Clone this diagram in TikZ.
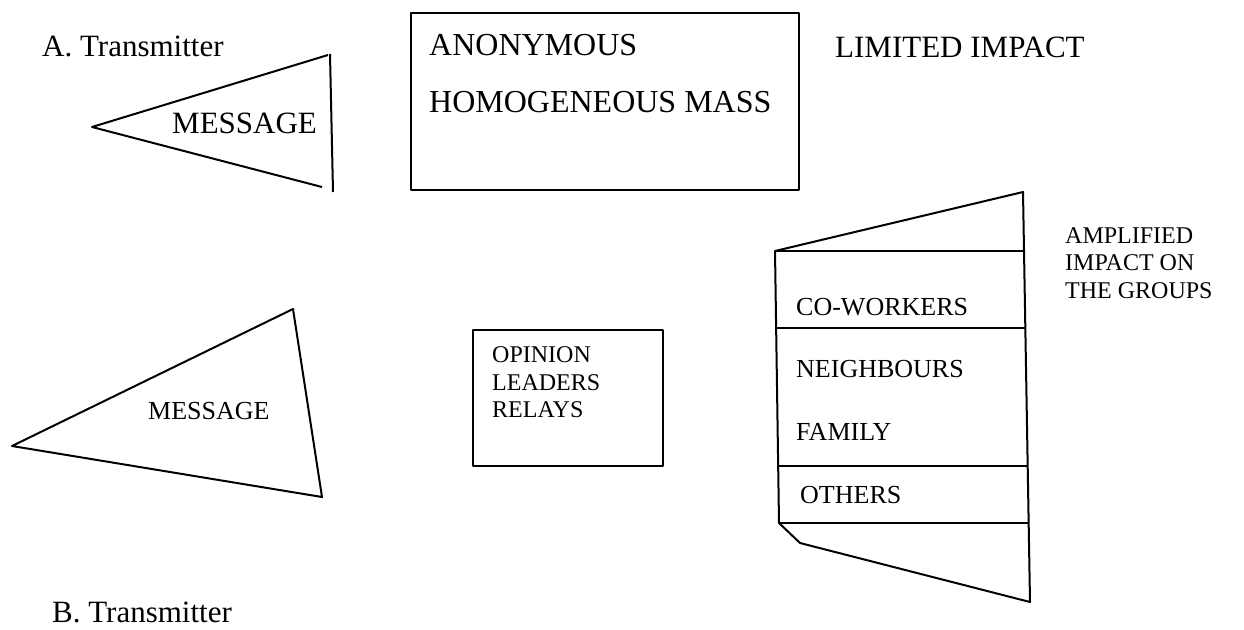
\documentclass[tikz,border=0pt]{standalone}
\usepackage{fontspec}
\setmainfont{Liberation Serif}
\begin{document}
\begin{tikzpicture}[x=1pt,y=-1pt,
  shape line/.style={draw=black, line width=2pt, line join=round},
  big/.style={anchor=base west, inner sep=0pt, font=\fontsize{31}{37}\selectfont},
  mid/.style={anchor=base west, inner sep=0pt, font=\fontsize{26}{31}\selectfont},
  small/.style={anchor=base west, inner sep=0pt, font=\fontsize{24}{28}\selectfont}]
\useasboundingbox[fill=white] (0,0) rectangle (1244,629);

% ---- A: transmitter ----
\coordinate (tA) at (92,127);
\coordinate (tB) at (328,55);
\coordinate (tC) at (322,187);
\coordinate (tD) at (330,54);
\coordinate (tE) at (333,192);
\draw[shape line] (tB) -- (tA) -- (tC);
\draw[shape line] (tD) -- (tE);
\node[big] (msgA) at (172,133) {MESSAGE};
\node[big] (transA) at (42,56) {A. Transmitter};

\node[shape line, anchor=north west, minimum width=388pt, minimum height=177pt, inner sep=0pt] (mass) at (410,12) {};
\node[big, font=\fontsize{32}{38}\selectfont] (anon) at (429,55) {ANONYMOUS};
\node[big, font=\fontsize{32}{38}\selectfont] (homo) at (429,112) {HOMOGENEOUS MASS};
\node[big] (limited) at (835,57) {LIMITED IMPACT};

% ---- B: transmitter ----
\coordinate (bA) at (12,446);
\coordinate (bB) at (293,309);
\coordinate (bC) at (322,497);
\draw[shape line] (bA) -- (bB) -- (bC) -- cycle;
\node[mid] (msgB) at (148,419) {MESSAGE};
\node[big] (transB) at (52,622) {B. Transmitter};

\node[shape line, anchor=north west, minimum width=190pt, minimum height=136pt, inner sep=0pt] (relay) at (472,329) {};
\node[small] (op) at (492,362) {OPINION};
\node[small] (lead) at (492,390) {LEADERS};
\node[small] (rel) at (492,417) {RELAYS};

% ---- groups ----
\coordinate (gTR) at (1023,192);
\coordinate (gTL) at (775,251);
\coordinate (gBL) at (779,523);
\coordinate (gBK) at (800,543);
\coordinate (gBR) at (1030,602);
\draw[shape line] (gTR) -- (gTL) -- (gBL) -- (gBK) -- (gBR) -- cycle;
\coordinate (h1l) at (775,251); \coordinate (h1r) at (1024,251);
\coordinate (h2l) at (777,328); \coordinate (h2r) at (1025,328);
\coordinate (h3l) at (778,466); \coordinate (h3r) at (1027,466);
\coordinate (h4l) at (779,523); \coordinate (h4r) at (1028,523);
\draw[shape line] (h1l) -- (h1r);
\draw[shape line] (h2l) -- (h2r);
\draw[shape line] (h3l) -- (h3r);
\draw[shape line] (h4l) -- (h4r);
\node[mid] (cow) at (796,315) {CO-WORKERS};
\node[mid] (nei) at (796,377) {NEIGHBOURS};
\node[mid] (fam) at (796,440) {FAMILY};
\node[mid] (oth) at (800,503) {OTHERS};

\node[small] (amp1) at (1065,243) {AMPLIFIED};
\node[small] (amp2) at (1065,270) {IMPACT ON};
\node[small] (amp3) at (1065,298) {THE GROUPS};
\end{tikzpicture}
\end{document}
